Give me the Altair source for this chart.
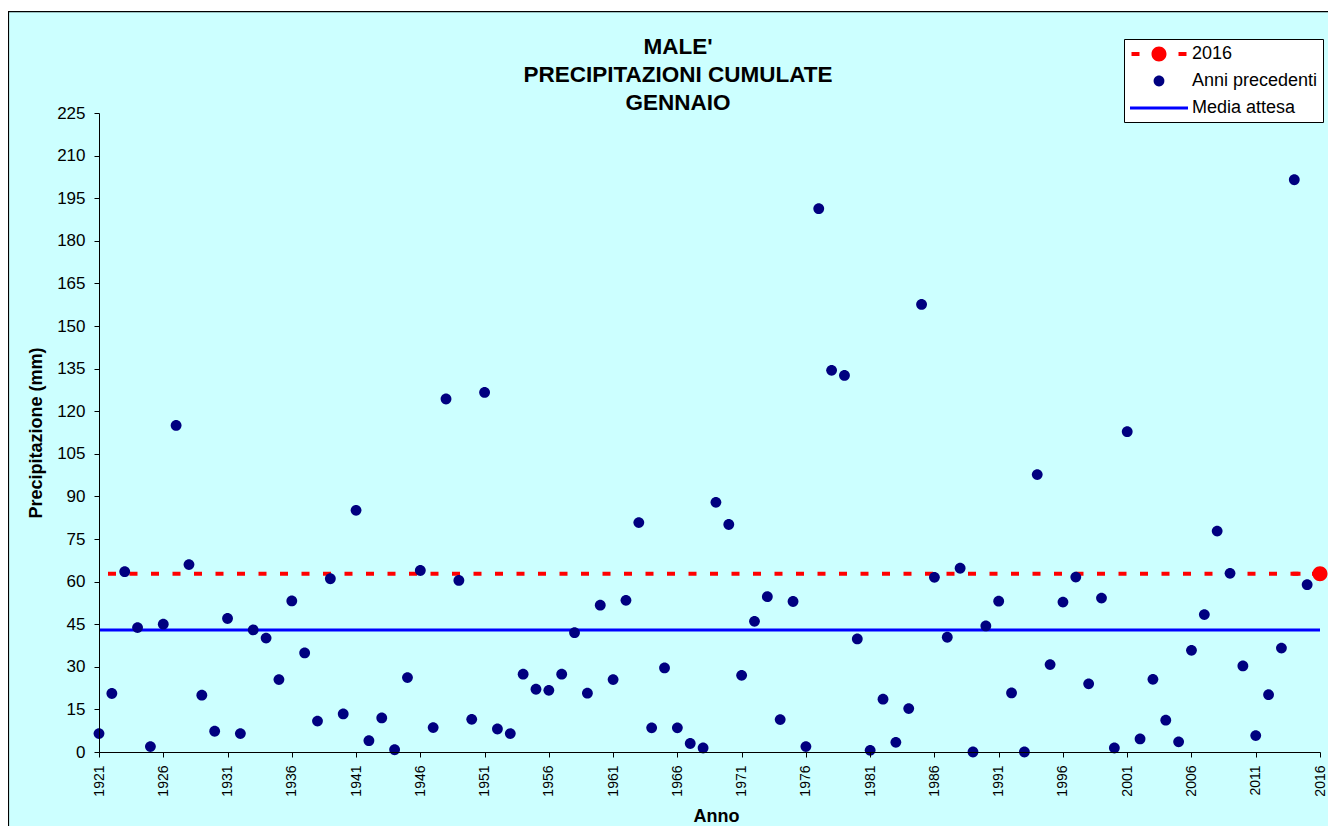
import altair as alt
import pandas as pd

# ---------------- data ----------------
anni = list(range(1921, 2016))
precipitazioni = [
    6.5, 20.6, 63.5, 43.8, 1.9, 45.0, 115.0, 66.0, 20.0, 7.3,      # 1921-1930
    47.0, 6.5, 43.0, 40.1, 25.5, 53.2, 34.9, 10.9, 61.0, 13.4,     # 1931-1940
    85.1, 4.0, 12.0, 0.8, 26.2, 63.9, 8.6, 124.3, 60.4, 11.5,      # 1941-1950
    126.6, 8.1, 6.5, 27.4, 22.1, 21.7, 27.4, 42.0, 20.7, 51.7,     # 1951-1960
    25.5, 53.4, 80.8, 8.5, 29.6, 8.5, 3.0, 1.4, 87.9, 80.1,        # 1961-1970
    27.0, 46.0, 54.7, 11.4, 53.0, 1.9, 191.3, 134.4, 132.6, 39.8,  # 1971-1980
    0.6, 18.6, 3.4, 15.3, 157.6, 61.5, 40.4, 64.7, 0.0, 44.4,      # 1981-1990
    53.1, 20.8, 0.0, 97.7, 30.8, 52.8, 61.6, 24.0, 54.2, 1.4,      # 1991-2000
    112.8, 4.6, 25.6, 11.2, 3.6, 35.8, 48.4, 77.8, 62.9, 30.3,     # 2001-2010
    5.8, 20.2, 36.6, 201.5, 58.9,                                  # 2011-2015
]
anno_corrente = 2016
valore_corrente = 62.8
media_attesa = 43.0

serie_nomi = ["2016", "Anni precedenti", "Media attesa"]
colori = ["#FF0000", "#000080", "#0000FF"]
tick_anni = list(range(1921, 2017, 5))
tick_mm = list(range(0, 226, 15))


def cerchio(r):
    return f"M{-r},0 A{r},{r} 0 1,0 {r},0 A{r},{r} 0 1,0 {-r},0 Z"


forma_2016 = ("M-2.75,-0.2 L-1.95,-0.2 L-1.95,0.2 L-2.75,0.2 Z "
              "M1.95,-0.2 L2.75,-0.2 L2.75,0.2 L1.95,0.2 Z " + cerchio(0.75))
forma_prec = cerchio(0.54)
forma_media = "M-2.9,-0.16 L2.9,-0.16 L2.9,0.16 L-2.9,0.16 Z"
forme = [forma_2016, forma_prec, forma_media]

punti = pd.DataFrame({
    "anno": anni + [anno_corrente],
    "mm": precipitazioni + [valore_corrente],
    "serie": ["Anni precedenti"] * len(anni) + ["2016"],
})
linea_2016 = pd.DataFrame({"mm": [valore_corrente]})
linea_media = pd.DataFrame({"mm": [media_attesa]})

FONT = "Liberation Sans"
PAD_L, PAD_T = 91, 105
W, H = 1221, 639
PAD_R = 1320 - PAD_L - W
X0 = 8 + PAD_L  # absolute x of the plot origin
Y0 = 8 + PAD_T

x_enc = alt.X(
    "anno:Q",
    scale=alt.Scale(domain=[1921, 2016], nice=False, zero=False),
    axis=alt.Axis(
        values=tick_anni, format="d", labelAngle=270, labelFontSize=14,
        labelPadding=8, tickSize=5, title="Anno", titleFontSize=18,
        titleFontWeight="bold", titleX=716 - X0, titleY=69,
        titleBaseline="alphabetic", titleAlign="center", zindex=1,
    ),
)
y_enc = alt.Y(
    "mm:Q",
    scale=alt.Scale(domain=[0, 225], nice=False, zero=True),
    axis=alt.Axis(
        values=tick_mm, labelFontSize=17, labelPadding=9, tickSize=5,
        title="Precipitazione (mm)", titleFontSize=18, titleFontWeight="bold",
        titleX=41.5 - X0, titleY=H / 2, titleAngle=270, titleAlign="center",
        titleBaseline="alphabetic", zindex=1,
    ),
)

legenda = alt.Legend(
    title=None, orient="none", legendX=1124 - X0, legendY=39 - Y0,
    fillColor="white", strokeColor="black", padding=5,
    symbolSize=400, symbolOffset=20, labelOffset=23,
    labelFontSize=18, labelFont=FONT, labelColor="black",
    rowPadding=8, symbolStrokeWidth=0, labelLimit=300, zindex=2,
)

sfondo = alt.Chart(pd.DataFrame({"k": [0]})).mark_rect(
    fill="#CCFFFF", stroke="#000000", strokeWidth=1.2
).encode(
    x=alt.value(8.5 - X0), x2=alt.value(1400 - X0),
    y=alt.value(11.7 - Y0), y2=alt.value(900 - Y0),
)

rule_media = alt.Chart(linea_media).mark_rule(
    color="#0000FF", strokeWidth=3
).encode(y=y_enc)

rule_2016 = alt.Chart(linea_2016).mark_rule(
    color="#FF0000", strokeWidth=4, strokeDash=[8, 13.5]
).encode(y=y_enc)

punti_chart = alt.Chart(punti).mark_point(
    filled=True, size=400, opacity=1, strokeWidth=0
).encode(
    x=x_enc,
    y=y_enc,
    color=alt.Color("serie:N", scale=alt.Scale(domain=serie_nomi, range=colori), legend=legenda),
    shape=alt.Shape("serie:N", scale=alt.Scale(domain=serie_nomi, range=forme), legend=legenda),
)

chart = alt.layer(sfondo, rule_media, rule_2016, punti_chart).properties(
    width=W, height=H,
    padding={"left": PAD_L, "top": PAD_T, "right": PAD_R, "bottom": 74},
    autosize=alt.AutoSizeParams(type="none"),
    title=alt.TitleParams(
        text=["MALE'", "PRECIPITAZIONI CUMULATE", "GENNAIO"],
        fontSize=22.5, font=FONT, fontWeight="bold", lineHeight=28,
        anchor="middle", dx=678 - (X0 + W / 2), dy=105, offset=2,
        color="black", zindex=1,
    ),
).configure_view(stroke=None).configure_axis(
    grid=False, labelFont=FONT, titleFont=FONT, labelColor="black",
    titleColor="black", domainColor="black", tickColor="black",
    domainWidth=1, tickWidth=1,
)

chart.save("out.html", embed_options={"renderer": "svg", "actions": False})
